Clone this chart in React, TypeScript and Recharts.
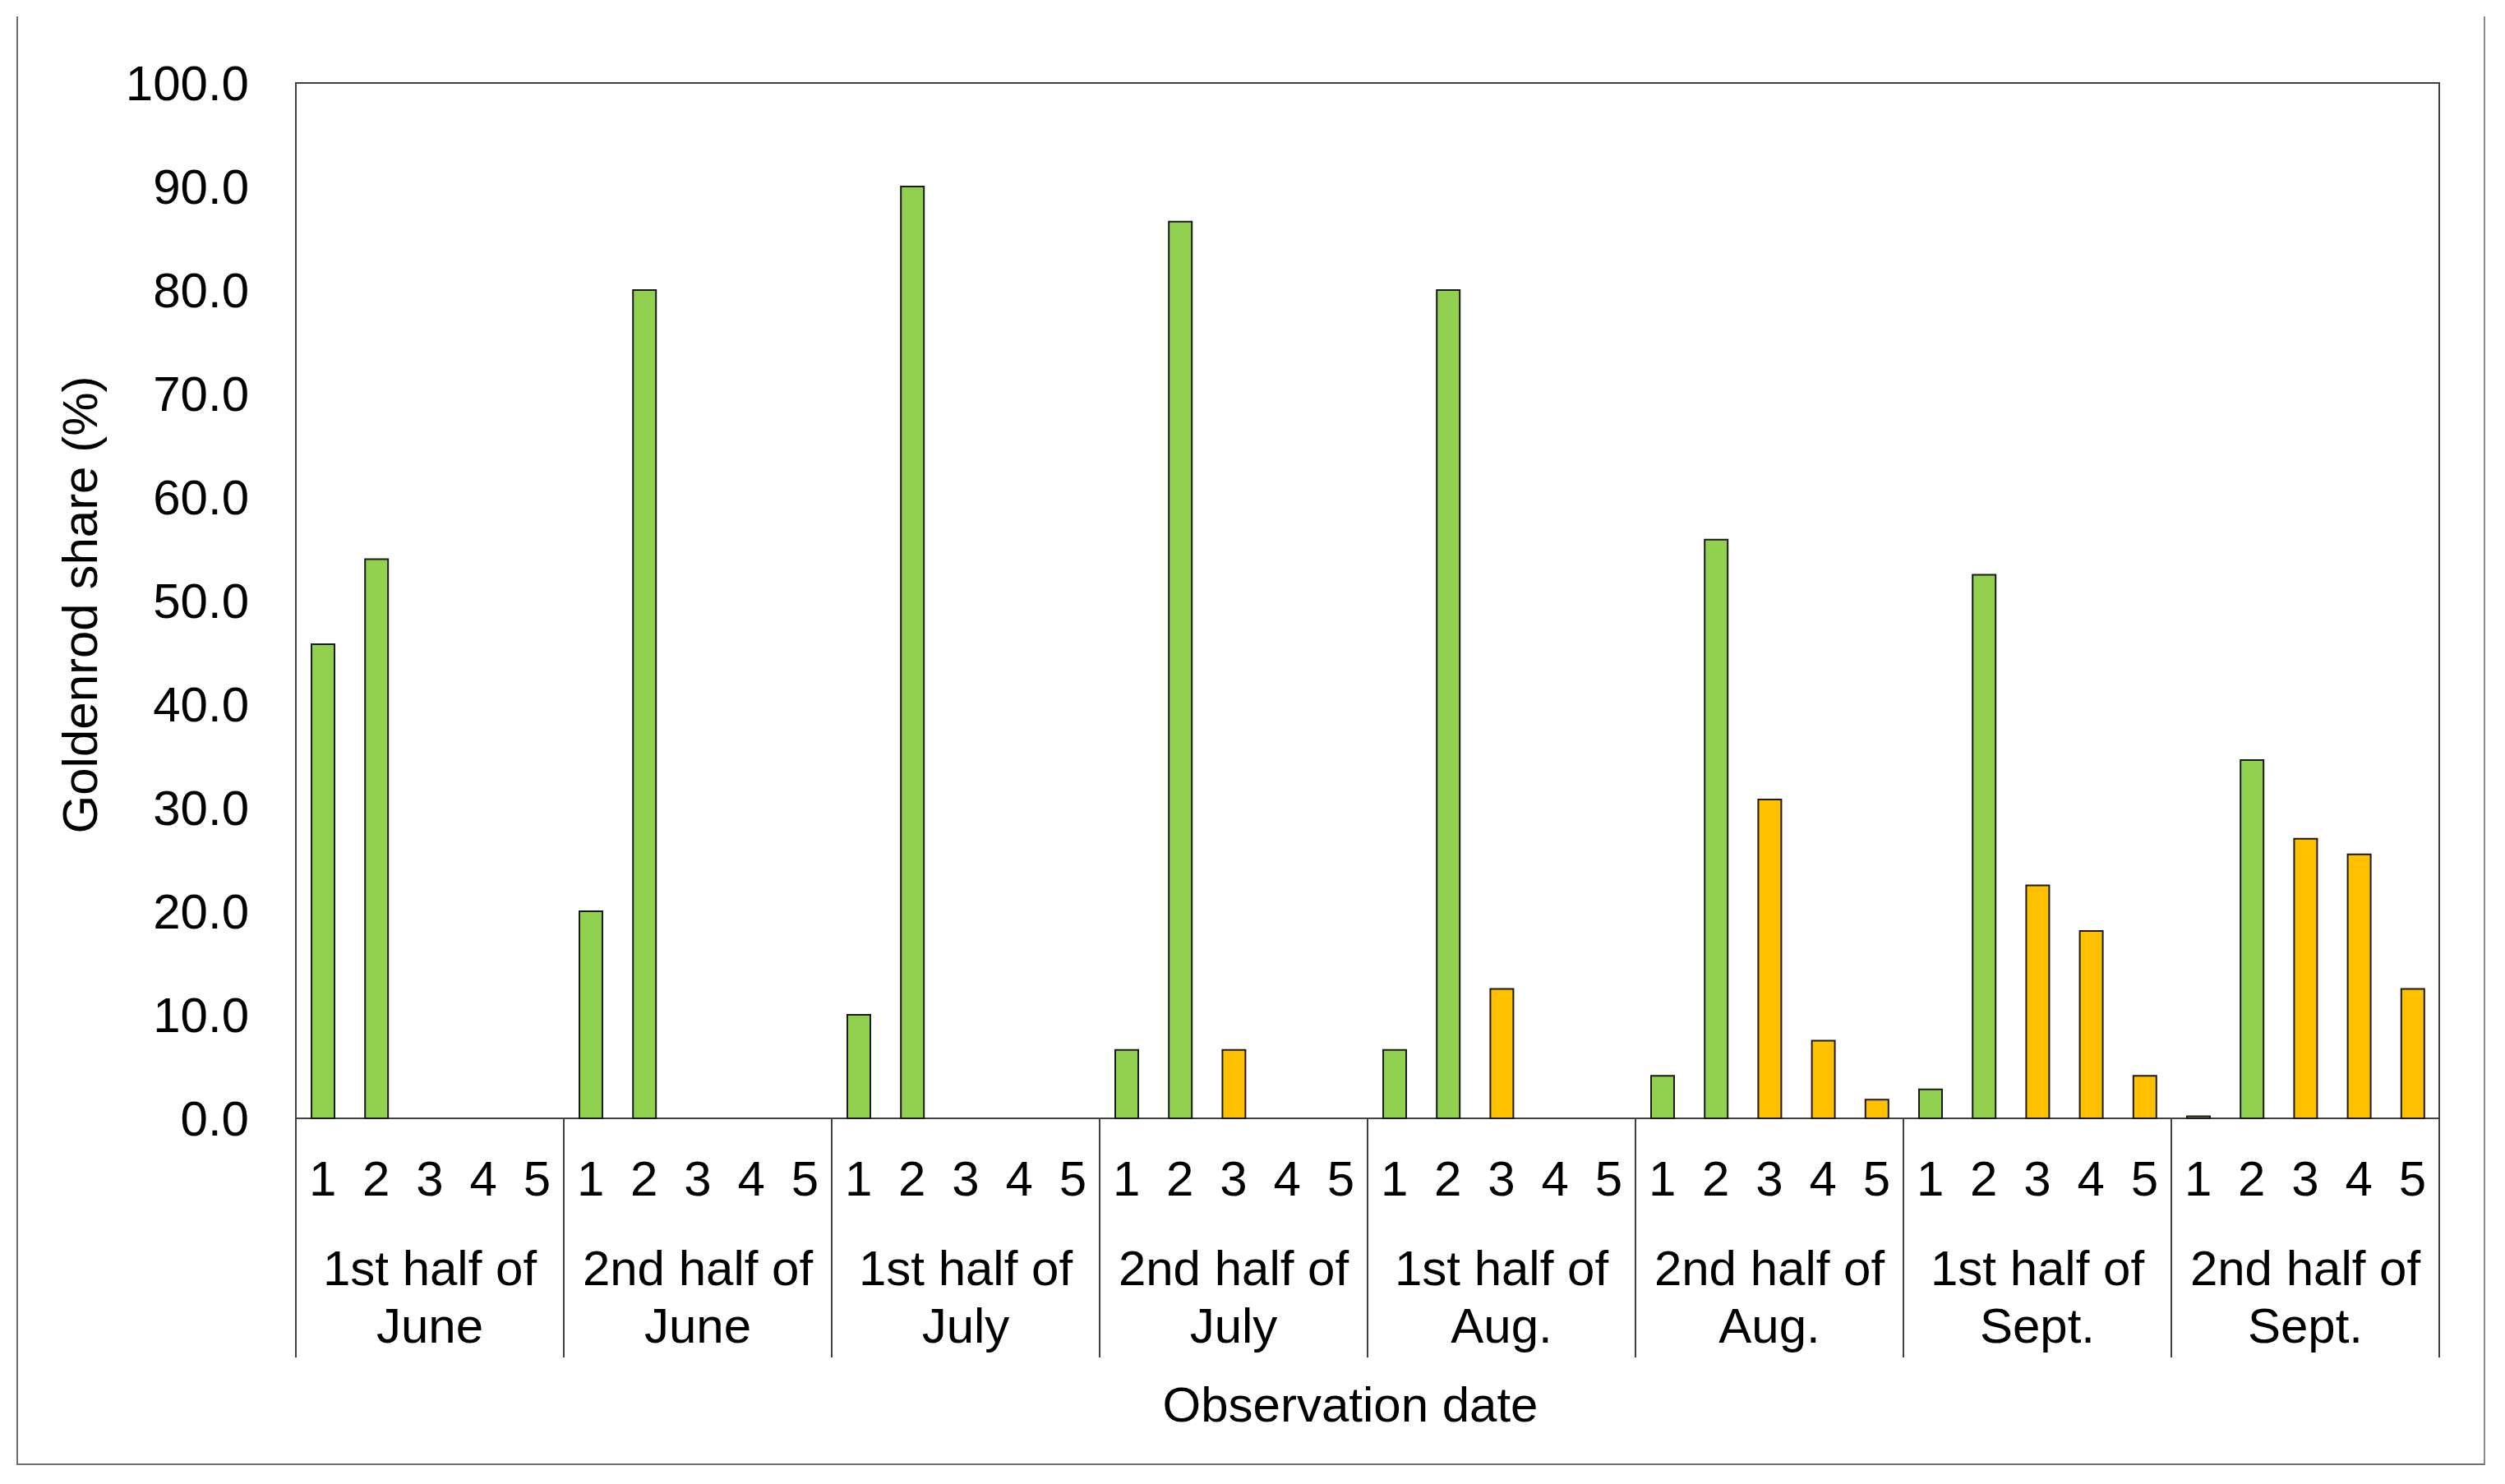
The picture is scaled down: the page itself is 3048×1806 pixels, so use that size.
import React from 'react';
import { BarChart, Bar, XAxis, YAxis, Cell, ReferenceArea, Label } from 'recharts';

// ---- Data ----
const periodLine1 = ['1st half of', '2nd half of', '1st half of', '2nd half of', '1st half of', '2nd half of', '1st half of', '2nd half of'];
const periodLine2 = ['June', 'June', 'July', 'July', 'Aug.', 'Aug.', 'Sept.', 'Sept.'];
const plotNumbers = ['1', '2', '3', '4', '5'];

const june1 = [45.8, 54.0, 0, 0, 0];
const june2 = [20.0, 80.0, 0, 0, 0];
const july1 = [10.0, 90.0, 0, 0, 0];
const july2 = [6.6, 86.6, 6.6, 0, 0];
const aug1 = [6.6, 80.0, 12.5, 0, 0];
const aug2 = [4.1, 55.9, 30.8, 7.5, 1.8];
const sept1 = [2.8, 52.5, 22.5, 18.1, 4.1];
const sept2 = [0.2, 34.6, 27.0, 25.5, 12.5];

const yTicks = [0, 10, 20, 30, 40, 50, 60, 70, 80, 90, 100];

// ---- Styling ----
const positionColors = ['#92D050', '#92D050', '#FFC000', '#FFC000', '#FFC000'];
const FONT = '"Liberation Sans", Arial, Helvetica, sans-serif';
const FS = 60;

const seriesByPeriod = [june1, june2, july1, july2, aug1, aug2, sept1, sept2];
const data = seriesByPeriod.flatMap((vals, g) =>
  vals.map((v, p) => ({ key: `${g}-${p}`, slot: g * 5 + p + 0.5, period: g, pos: p, value: v }))
);

const nCats = data.length;
const axisTicks: number[] = [];
for (let g = 0; g < seriesByPeriod.length; g++) {
  axisTicks.push(g * 5);
  for (let p = 0; p < 5; p++) axisTicks.push(g * 5 + p + 0.5);
}
axisTicks.push(nCats);

function CategoryTick(props: any) {
  const { x, y, payload } = props;
  const v = payload.value as number;
  if (Number.isInteger(v) && v % 5 === 0) {
    return <line x1={x} y1={y} x2={x} y2={y + 291} stroke="#404040" strokeWidth={2} />;
  }
  const idx = Math.floor(v);
  const g = Math.floor(idx / 5);
  const p = idx % 5;
  return (
    <g>
      <text x={x} y={y + 94} textAnchor="middle" fontSize={FS} fontFamily={FONT} fill="#000">
        {plotNumbers[p]}
      </text>
      {p === 2 && (
        <>
          <text x={x} y={y + 203} textAnchor="middle" fontSize={FS} fontFamily={FONT} fill="#000">
            {periodLine1[g]}
          </text>
          <text x={x} y={y + 273} textAnchor="middle" fontSize={FS} fontFamily={FONT} fill="#000">
            {periodLine2[g]}
          </text>
        </>
      )}
    </g>
  );
}

export default function App() {
  return (
    <div style={{ position: 'absolute', left: 0, top: 0, width: 3048, height: 1806, background: '#fff' }}>
      <div
        style={{
          position: 'absolute',
          left: 20,
          top: 20,
          width: 3004,
          height: 1763,
          boxSizing: 'border-box',
          borderLeft: '2px solid #6e6e6e',
          borderRight: '2px solid #8a8a8a',
          borderBottom: '2px solid #6e6e6e',
        }}
      />
      <div style={{ position: 'absolute', left: 0, top: 0 }}>
        <BarChart
          width={3048}
          height={1806}
          data={data}
          margin={{ top: 101, right: 80, left: 0, bottom: 0 }}
          barSize={28}
        >
          <XAxis xAxisId="cat" dataKey="key" type="category" hide height={0} />
          <XAxis
            xAxisId="num"
            dataKey="slot"
            type="number"
            domain={[0, nCats]}
            ticks={axisTicks}
            interval={0}
            allowDataOverflow
            height={445}
            axisLine={false}
            tickLine={false}
            tickSize={0}
            tickMargin={0}
            tick={<CategoryTick />}
          >
            <Label
              content={(lp: any) => {
                const vb = lp.viewBox || { x: 360, y: 1361, width: 2608, height: 445 };
                return (
                  <text
                    x={vb.x + vb.width / 2 - 21}
                    y={vb.y + 369}
                    textAnchor="middle"
                    fontSize={FS}
                    fontFamily={FONT}
                    fill="#000"
                  >
                    Observation date
                  </text>
                );
              }}
            />
          </XAxis>
          <YAxis
            type="number"
            domain={[0, 100]}
            ticks={yTicks}
            width={360}
            axisLine={false}
            tickLine={false}
            tickSize={0}
            tickMargin={57}
            tickFormatter={(v: number) => v.toFixed(1)}
            tick={{ fontSize: FS, fontFamily: FONT, fill: '#000' }}
          >
            <Label
              content={(lp: any) => {
                const vb = lp.viewBox || { x: 0, y: 101, width: 360, height: 1260 };
                const cx = vb.x + 118;
                const cy = vb.y + vb.height / 2 + 5;
                return (
                  <text
                    x={cx}
                    y={cy}
                    transform={`rotate(-90, ${cx}, ${cy})`}
                    textAnchor="middle"
                    fontSize={FS}
                    fontFamily={FONT}
                    fill="#000"
                  >
                    Goldenrod share (%)
                  </text>
                );
              }}
            />
          </YAxis>
          <ReferenceArea
            xAxisId="num"
            y1={0}
            y2={100}
            fill="none"
            stroke="#404040"
            strokeWidth={2}
            ifOverflow="visible"
          />
          <Bar xAxisId="cat" dataKey="value" isAnimationActive={false} stroke="#1a1a1a" strokeWidth={2}>
            {data.map((d) => (
              <Cell key={d.key} fill={positionColors[d.pos]} />
            ))}
          </Bar>
        </BarChart>
      </div>
    </div>
  );
}
